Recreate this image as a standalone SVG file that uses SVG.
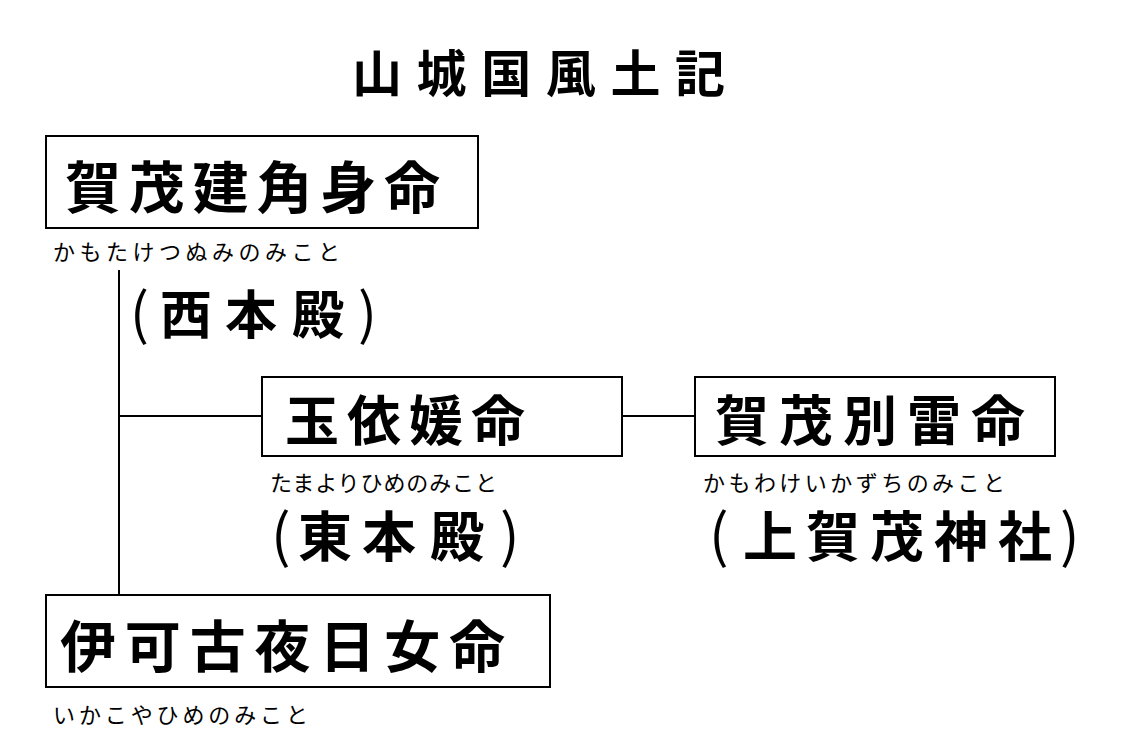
<svg xmlns="http://www.w3.org/2000/svg" width="1128" height="738" viewBox="0 0 1128 738">
<style>
.box{fill:#fff;stroke:#000;stroke-width:2}
.big{font-family:"Noto Sans CJK JP","Noto Sans CJK SC",sans-serif;font-weight:bold;fill:#000}
.par{font-family:"Noto Sans CJK JP","Noto Sans CJK SC",sans-serif;font-weight:normal;fill:#000}
.rd{font-family:"Noto Sans CJK JP","Noto Sans CJK SC",sans-serif;font-size:22px;fill:#000}
.ln{stroke:#000;stroke-width:2;fill:none}
</style>
<rect width="1128" height="738" fill="#fff"/>
<text class="big" x="352" y="92" font-size="50" textLength="373" lengthAdjust="spacing">山城国風土記</text>
<g id="connectors">
<line class="ln" x1="119" y1="270" x2="119" y2="596"/>
<line class="ln" x1="119" y1="416" x2="262" y2="416"/>
<line class="ln" x1="622" y1="416" x2="695" y2="416"/>
</g>
<g id="n1">
<rect class="box" x="46" y="136" width="432" height="92"/>
<text class="big" x="65" y="208" font-size="56" textLength="375" lengthAdjust="spacing">賀茂建角身命</text>
<text class="rd" x="53" y="260" textLength="287" lengthAdjust="spacing">かもたけつぬみのみこと</text>
<text class="par" x="130" y="334" font-size="56">(</text>
<text class="big" x="160 225 292" y="334" font-size="52">西本殿</text>
<text class="par" x="358" y="334" font-size="56">)</text>
</g>
<g id="n2">
<rect class="box" x="262" y="377" width="360" height="79"/>
<text class="big" x="285" y="441" font-size="54" textLength="240" lengthAdjust="spacing">玉依媛命</text>
<text class="rd" x="270" y="491" textLength="227" lengthAdjust="spacing">たまよりひめのみこと</text>
<text class="par" x="271" y="557" font-size="58">(</text>
<text class="big" x="298 362 430" y="557" font-size="54">東本殿</text>
<text class="par" x="500" y="557" font-size="58">)</text>
</g>
<g id="n3">
<rect class="box" x="695" y="377" width="360" height="79"/>
<text class="big" x="715" y="441" font-size="54" textLength="310" lengthAdjust="spacing">賀茂別雷命</text>
<text class="rd" x="703" y="491" textLength="302" lengthAdjust="spacing">かもわけいかずちのみこと</text>
<text class="par" x="709" y="557" font-size="58">(</text>
<text class="big" x="743 806 870 934 998" y="557" font-size="54">上賀茂神社</text>
<text class="par" x="1060" y="557" font-size="58">)</text>
</g>
<g id="n4">
<rect class="box" x="46" y="595" width="504" height="92"/>
<text class="big" x="60" y="667" font-size="56" textLength="445" lengthAdjust="spacing">伊可古夜日女命</text>
<text class="rd" x="53" y="723" textLength="255" lengthAdjust="spacing">いかこやひめのみこと</text>
</g>
</svg>
